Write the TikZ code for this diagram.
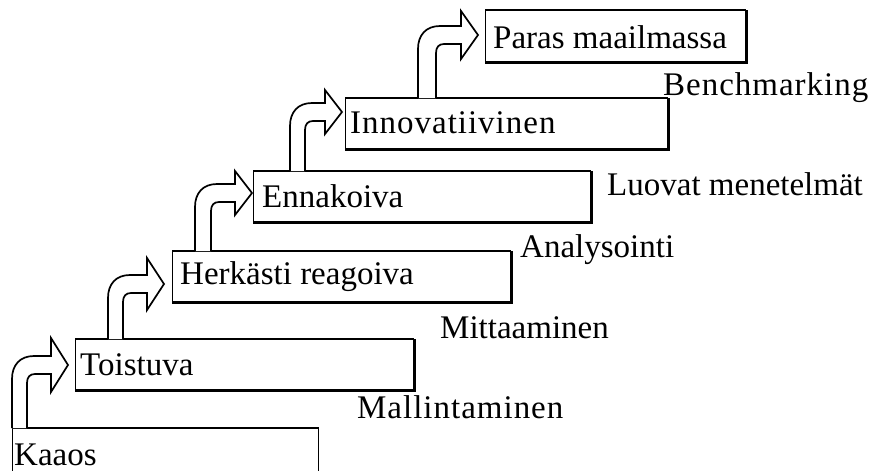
\documentclass[tikz,border=0pt]{standalone}
\usepackage{fontspec}
\setmainfont{Liberation Serif}
\newcommand\spaced[2]{{\addfontfeature{LetterSpace=#1}#2}}
\begin{document}
\begin{tikzpicture}[x=1pt,y=-1pt,
  txt/.style={anchor=west, inner sep=0pt, font=\fontsize{33}{38}\selectfont},
  stage/.style={draw, line width=1.3pt, fill=white, anchor=north west,
    minimum height=50pt, inner sep=0pt},
  shadow/.style={line width=3.6pt},
  topedge/.style={line width=2.2pt},
  blockarrow/.style={draw, line width=1.7pt, line join=miter, fill=white}]
\useasboundingbox (0,0) rectangle (884,474);

% stepped stage boxes (the lowest one runs off the bottom edge)
\node[stage, minimum width=306pt, minimum height=44pt] (kaaos) at (12,428) {};
\node[stage, minimum width=338pt] (toist)  at (75,339) {};
\node[stage, minimum width=338pt] (herk)   at (172,251) {};
\node[stage, minimum width=337pt] (ennak)  at (253,171) {};
\node[stage, minimum width=322pt] (innov)  at (345,98) {};
\node[stage, minimum width=260pt, minimum height=51pt] (paras) at (485,10) {};
% white strip hides the bottom edge of the lowest box
\fill[white] (8,471) rectangle (324,476);

% heavier top edges and drop-shadow edges
\draw[topedge] (kaaos.north west) -- (kaaos.north east);
\foreach \b in {toist,herk,ennak,innov,paras}{
  \draw[topedge] (\b.north west) -- (\b.north east);
  \draw[shadow] (\b.north east) -- (\b.south east) -- (\b.south west);
}

% stage names
\node[txt] (tkaaos) at (14,455) {Kaaos};
\node[txt] (ttoist) at (80,365) {Toistuva};
\node[txt] (therk)  at (180,277) {Herkästi reagoiva};
\node[txt] (tennak) at (262,196) {Ennakoiva};
\node[txt] (tinnov) at (350,123) {\spaced{3}{Innovatiivinen}};
\node[txt] (tparas) at (493,37) {Paras maailmassa};

% methods between stages
\node[txt] (mmall) at (357,407) {\spaced{3}{Mallintaminen}};
\node[txt] (mmitt) at (440,328) {Mittaaminen};
\node[txt] (manal) at (520,250) {Analysointi};
\node[txt] (mluov) at (607,184) {Luovat menetelmät};
\node[txt] (mbench) at (663,88) {\spaced{3}{Benchmarking}};

% bent block arrow: #1 outer stem x, #2 inner stem x, #3 base y,
% #4 tip x, #5 tip y, #6 half height of the head
\newcommand\bentarrow[6]{%
  \draw[blockarrow] (#1,#3) -- (#1,{#5+14})
    .. controls (#1,{#5}) and ({#1+8},{#5-9}) .. ({#1+22},{#5-9})
    -- ({#4-17},{#5-9}) -- ({#4-17},{#5-#6}) -- (#4,#5)
    -- ({#4-17},{#5+#6}) -- ({#4-17},{#5+9})
    -- ({#2+8},{#5+9})
    .. controls ({#2+3},{#5+9}) and (#2,{#5+12}) .. (#2,{#5+18})
    -- (#2,#3);}

\bentarrow{12}{27}{428}{68}{365}{27}
\bentarrow{108}{123}{339}{164}{284}{26}
\bentarrow{195}{211}{251}{252}{193}{22}
\bentarrow{290}{305}{171}{342}{112}{22}
\bentarrow{418}{436}{98}{478}{35}{24}
\end{tikzpicture}
\end{document}
